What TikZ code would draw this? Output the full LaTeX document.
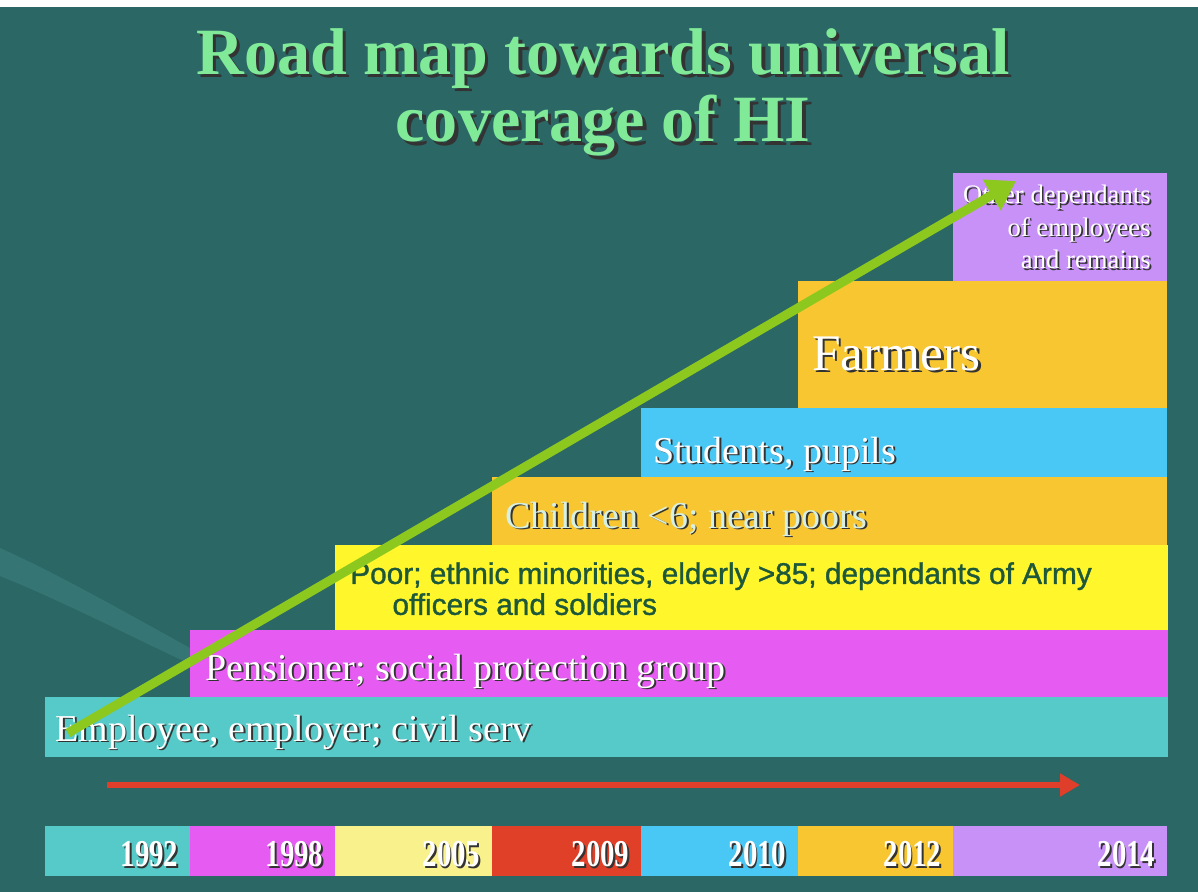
\documentclass[tikz,border=0pt]{standalone}
\usepackage{fontspec}
\setmainfont{Liberation Serif}
\newfontfamily\barsans[FakeBold=1.2]{Liberation Sans}
\newfontfamily\yearfont[FakeStretch=0.76]{Liberation Serif}
\usepackage{tikz}
\usetikzlibrary{
    arrows.meta,
    positioning
}

\definecolor{bgteal}{RGB}{43,103,101}
\definecolor{swooshteal}{RGB}{70,140,138}
\definecolor{barcyan}{RGB}{85,202,200}
\definecolor{barmagenta}{RGB}{230,92,242}
\definecolor{baryellow}{RGB}{255,246,44}
\definecolor{barorange}{RGB}{248,198,48}
\definecolor{barblue}{RGB}{74,200,245}
\definecolor{barlavender}{RGB}{200,145,248}
\definecolor{paleyellow}{RGB}{249,242,140}
\definecolor{segred}{RGB}{224,64,40}
\definecolor{titlegreen}{RGB}{128,234,152}
\definecolor{arrowgreen}{RGB}{140,200,30}
\definecolor{arrowred}{RGB}{222,62,42}
\definecolor{poortext}{RGB}{30,88,58}
\definecolor{childtext}{RGB}{216,240,226}

% text with a dark drop shadow
\newcommand{\shd}[2][1.4pt]{\leavevmode\rlap{\kern#1\raisebox{-#1}{\color{black!80}#2}}#2}

\begin{document}
\begin{tikzpicture}[
    x=0.025cm, y=-0.025cm,
    every node/.style={inner sep=0pt},
    bar/.style={rectangle, anchor=north west, inner sep=0pt},
    yearseg/.style={rectangle, anchor=north west, inner sep=0pt, minimum height=1.25cm},
    barlabel/.style={anchor=base west, text=white, font=\fontsize{27}{30}\selectfont},
    yearlabel/.style={anchor=base east, text=white, font=\yearfont\bfseries\fontsize{27}{30}\selectfont},
    title/.style={anchor=north, align=center, text=titlegreen,
      font=\bfseries\fontsize{47}{48}\selectfont},
    growth/.style={-{Triangle[length=7mm, width=8.5mm]}, line width=6.5pt, draw=arrowgreen},
    timeline/.style={-{Triangle[length=5mm, width=5.5mm]}, line width=4pt, draw=arrowred}
]
\useasboundingbox (0,0) rectangle (1198,892);
\fill[bgteal] (0,0) rectangle (1198,892);
\fill[white] (0,0) rectangle (1198,7);

% faint swoosh on the left
\fill[swooshteal, opacity=0.4] (0,548) .. controls (60,575) and (130,615) .. (190,648)
  -- (190,664) .. controls (130,636) and (60,600) .. (0,576) -- cycle;

\node[title] (title) at (603,28) {\shd[2.5pt]{Road map towards universal}\\\shd[2.5pt]{coverage of HI}};

% coverage steps
\node[bar, fill=barcyan, minimum width=28.05cm, minimum height=1.5cm] (employee) at (45,697) {};
\node[bar, fill=barmagenta, minimum width=24.425cm, minimum height=1.675cm] (pension) at (190,630) {};
\node[bar, fill=baryellow, minimum width=20.8cm, minimum height=2.125cm] (poor) at (335,545) {};
\node[bar, fill=barorange, minimum width=16.875cm, minimum height=1.7cm] (children) at (492,477) {};
\node[bar, fill=barblue, minimum width=13.15cm, minimum height=1.725cm] (students) at (641,408) {};
\node[bar, fill=barorange, minimum width=9.225cm, minimum height=3.175cm] (farmers) at (798,281) {};
\node[bar, fill=barlavender, minimum width=5.35cm, minimum height=2.7cm] (others) at (953,173) {};

\node[barlabel] (employeetxt) at (55,741) {\shd{Employee, employer; civil serv}};
\node[barlabel] (pensiontxt) at (205,680) {\shd{Pensioner; social protection group}};
\node[anchor=north west, align=left, text=poortext,
  font=\barsans\fontsize{21.2}{22}\selectfont] (poortxt) at (350,562)
  {Poor; ethnic minorities, elderly >85; dependants of Army\\\hspace*{30pt}officers and soldiers};
\node[barlabel, text=childtext] (childrentxt) at (505,528) {\shd{Children <6; near poors}};
\node[barlabel] (studentstxt) at (653,463) {\shd{Students, pupils}};
\node[barlabel, font=\fontsize{36.5}{40}\selectfont] (farmerstxt) at (812,370) {\shd[1.8pt]{Farmers}};
\node[anchor=north east, align=right, text=white, font=\fontsize{19}{23}\selectfont]
  (otherstxt) at (1151,185) {\shd[1.2pt]{Other dependants}\\\shd[1.2pt]{of employees}\\\shd[1.2pt]{and remains}};

% time line
\coordinate (tstart) at (107,785);
\coordinate (tend) at (1080,785);
\draw[timeline] (tstart) -- (tend);

\foreach \xa/\xb/\yr/\col in {45/190/1992/barcyan, 190/335/1998/barmagenta,
    335/492/2005/paleyellow, 492/641/2009/segred, 641/798/2010/barblue,
    798/953/2012/barorange, 953/1167/2014/barlavender}{
  \pgfmathsetmacro{\segw}{(\xb-\xa)*0.025}
  \node[yearseg, fill=\col, minimum width=\segw cm] (seg\yr) at (\xa,826) {};
  \node[yearlabel] (lbl\yr) at ([xshift=-8.5pt, yshift=7pt]seg\yr.south east) {\shd[1.3pt]{\yr}};
}

% growth arrow
\coordinate (gstart) at (68,733);
\coordinate (gend) at (1016,181);
\draw[growth] (gstart) -- (gend);
\end{tikzpicture}
\end{document}
